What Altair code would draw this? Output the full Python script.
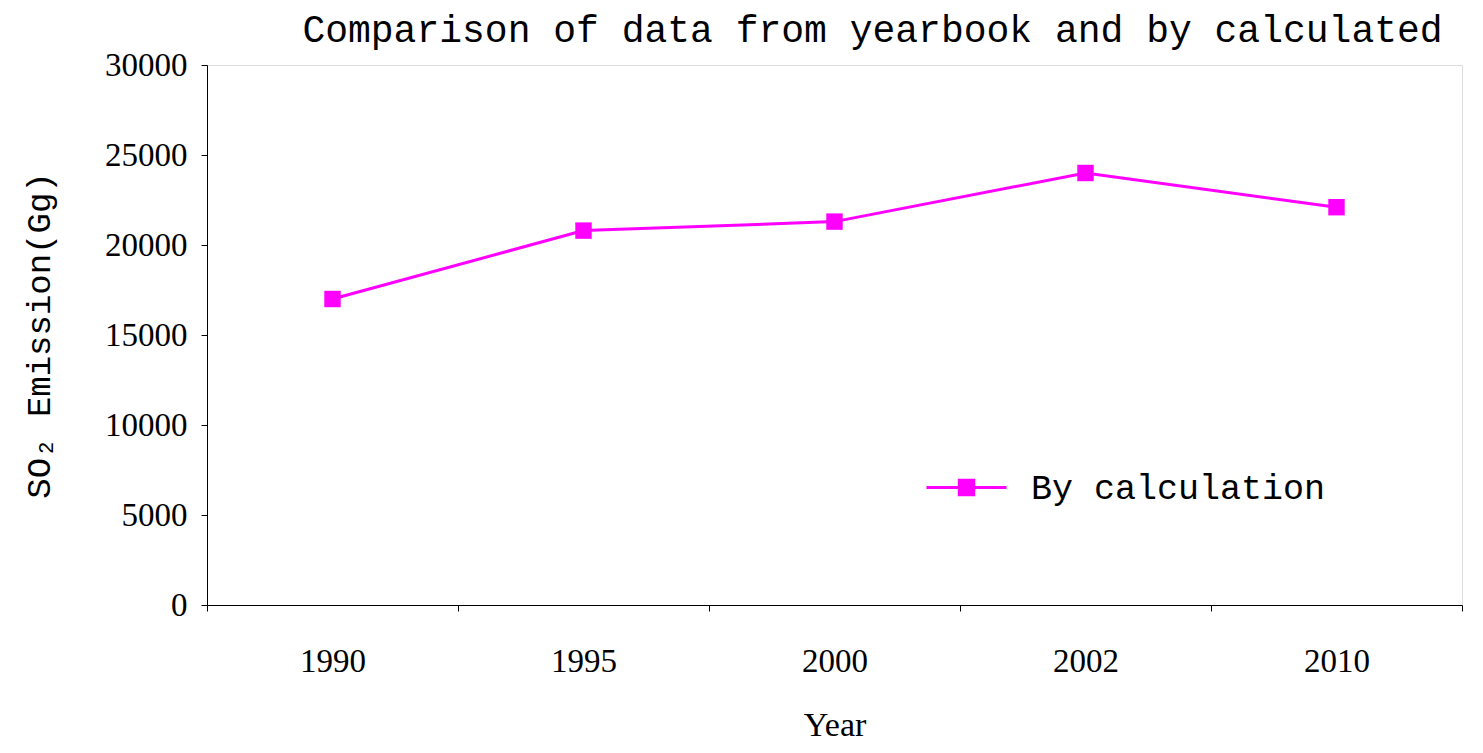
import altair as alt
import pandas as pd

years = ["1990", "1995", "2000", "2002", "2010"]
values = [17000, 20800, 21300, 24000, 22100]
series = ["By calculation"] * len(years)

df = pd.DataFrame({"Year": years, "Emission": values, "Series": series})

MAG = "#FF00FF"

x_enc = alt.X(
    "Year:N",
    sort=None,
    scale=alt.Scale(type="band", paddingInner=0, paddingOuter=0),
    axis=alt.Axis(
        title="Year",
        tickBand="extent",
        labelAngle=0,
        labelFont="Liberation Serif",
        labelFontSize=33,
        labelColor="black",
        labelPadding=34,
        tickSize=6,
        tickColor="black",
        domainColor="black",
        titleFont="Liberation Serif",
        titleFontSize=34,
        titleFontWeight="normal",
        titleColor="black",
        titlePadding=30,
        grid=False,
    ),
)

y_enc = alt.Y(
    "Emission:Q",
    scale=alt.Scale(domain=[0, 30000]),
    axis=alt.Axis(
        title="SO₂ Emission(Gg)",
        values=[0, 5000, 10000, 15000, 20000, 25000, 30000],
        format="d",
        labelFont="Liberation Serif",
        labelFontSize=33,
        labelColor="black",
        labelPadding=14,
        tickSize=6,
        tickColor="black",
        domainColor="black",
        titleFont="Liberation Mono",
        titleFontSize=34,
        titleFontWeight="normal",
        titleColor="black",
        titlePadding=48,
        grid=False,
    ),
)

line = alt.Chart(df).mark_line(strokeWidth=3).encode(
    x=x_enc,
    y=y_enc,
    color=alt.Color(
        "Series:N",
        scale=alt.Scale(range=[MAG]),
        legend=alt.Legend(
            title=None,
            orient="none",
            legendX=718,
            legendY=381,
            padding=0,
            symbolType="M-1,0H1M-0.18,-0.18H0.18V0.18H-0.18Z",
            symbolSize=6400,
            symbolStrokeWidth=3,
            symbolFillColor=MAG,
            symbolStrokeColor=MAG,
            labelFont="Liberation Mono",
            labelFontSize=35,
            labelColor="black",
            labelOffset=23,
            labelLimit=500,
        ),
    ),
)

points = alt.Chart(df).mark_point(shape="square", filled=True, size=270, opacity=1, color=MAG).encode(
    x=alt.X("Year:N", sort=None),
    y=alt.Y("Emission:Q"),
)

chart = (
    alt.layer(line, points)
    .properties(
        width=1255,
        height=540,
        autosize=alt.AutoSizeParams(type="none"),
        padding={"left": 199, "top": 57, "right": 13, "bottom": 140},
        title=alt.TitleParams(
            "Comparison of data from yearbook and by calculated",
            font="Liberation Mono",
            fontSize=38,
            fontWeight="normal",
            color="black",
            frame="group",
            anchor="middle",
            dx=38,
            dy=4,
            offset=3,
        ),
    )
    .configure_view(stroke=None)
    .configure(background="white")
)

chart.save("out.html", embed_options={"renderer": "svg", "actions": False})
